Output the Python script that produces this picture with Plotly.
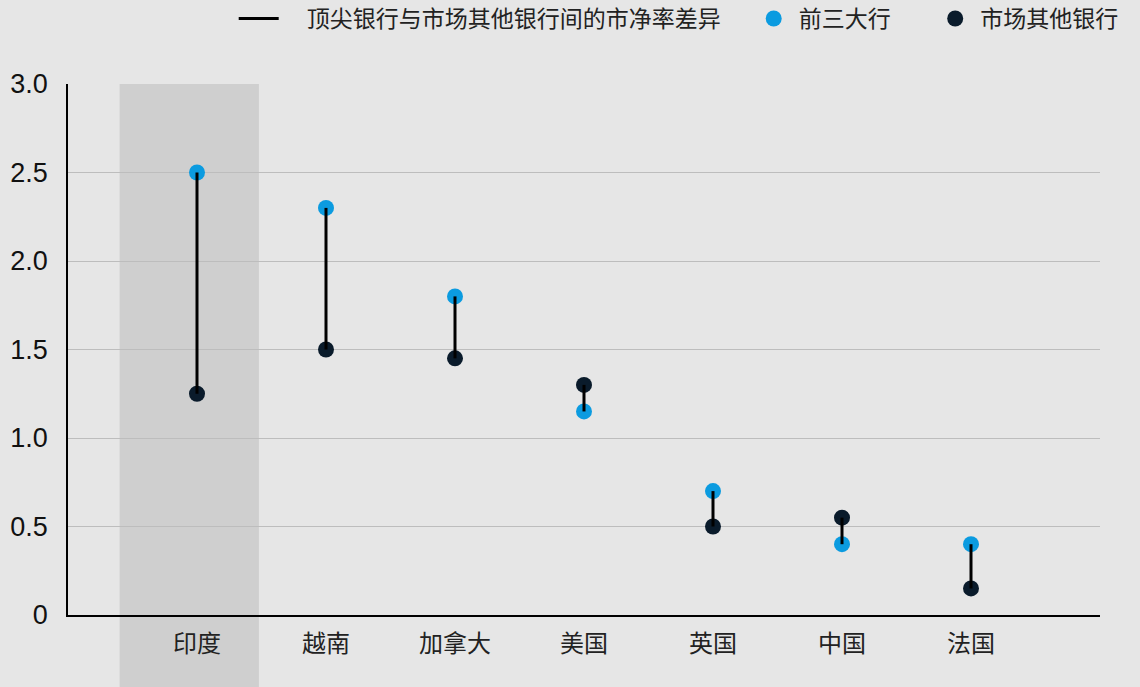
import plotly.graph_objects as go

# Price-to-book ratios by market
countries = ["印度", "越南", "加拿大", "美国", "英国", "中国", "法国"]
top3_banks = [2.5, 2.3, 1.8, 1.15, 0.7, 0.4, 0.4]
other_banks = [1.25, 1.5, 1.45, 1.3, 0.5, 0.55, 0.15]

y_ticks = [0, 0.5, 1.0, 1.5, 2.0, 2.5, 3.0]
y_tick_labels = ["0", "0.5", "1.0", "1.5", "2.0", "2.5", "3.0"]

BLUE = "#0B9BE0"
DARK = "#0A1B2B"
BG = "#E6E6E6"
CJK = "Noto Sans CJK SC"

# full-width spaces give the legend entries some breathing room
SP = "\u3000"
EN = "\u2002"

x_idx = list(range(len(countries)))

# connector segments between the two groups, one per country
seg_x, seg_y = [], []
for i, (a, b) in enumerate(zip(top3_banks, other_banks)):
    seg_x += [i, i, None]
    seg_y += [a, b, None]

fig = go.Figure()

fig.add_trace(go.Scatter(
    x=x_idx, y=top3_banks, mode="markers", name="前三大行" + SP + EN,
    marker=dict(color=BLUE, size=16), legendrank=2,
))
fig.add_trace(go.Scatter(
    x=x_idx, y=other_banks, mode="markers", name="市场其他银行",
    marker=dict(color=DARK, size=16), legendrank=3,
))
fig.add_trace(go.Scatter(
    x=seg_x, y=seg_y, mode="lines",
    name=SP + "顶尖银行与市场其他银行间的市净率差异" + SP,
    line=dict(color="black", width=3), legendrank=1,
))

# highlight band behind the first market
fig.add_shape(
    type="rect", xref="x", yref="paper",
    x0=-0.6, x1=0.48, y0=-0.2, y1=1,
    fillcolor="#CFCFCF", line_width=0, layer="below",
)

fig.update_layout(
    width=1140, height=687,
    paper_bgcolor=BG, plot_bgcolor=BG,
    margin=dict(l=68, r=40, t=84, b=72),
    showlegend=True,
    legend=dict(
        orientation="h", xref="container", yref="container",
        x=0.205, xanchor="left", y=0.973, yanchor="middle",
        font=dict(family=CJK, size=23, color="#222222"),
        bgcolor="rgba(0,0,0,0)", itemwidth=40,
    ),
    xaxis=dict(
        range=[-1, 7], tickmode="array", tickvals=x_idx, ticktext=countries,
        showgrid=False, zeroline=False, automargin=False,
        showline=True, linecolor="black", linewidth=1.5,
        ticks="", ticklabelstandoff=6,
        tickfont=dict(family=CJK, size=24, color="#222222"),
    ),
    yaxis=dict(
        range=[0, 3.0], tickmode="array", tickvals=y_ticks, ticktext=y_tick_labels,
        showgrid=True, gridcolor="#BDBDBD", gridwidth=1, zeroline=False,
        automargin=False,
        showline=True, linecolor="black", linewidth=1.5,
        ticks="", ticklabelstandoff=13,
        tickfont=dict(family="Liberation Sans, Arial", size=27, color="#111111"),
    ),
)

fig.write_html("out.html")
